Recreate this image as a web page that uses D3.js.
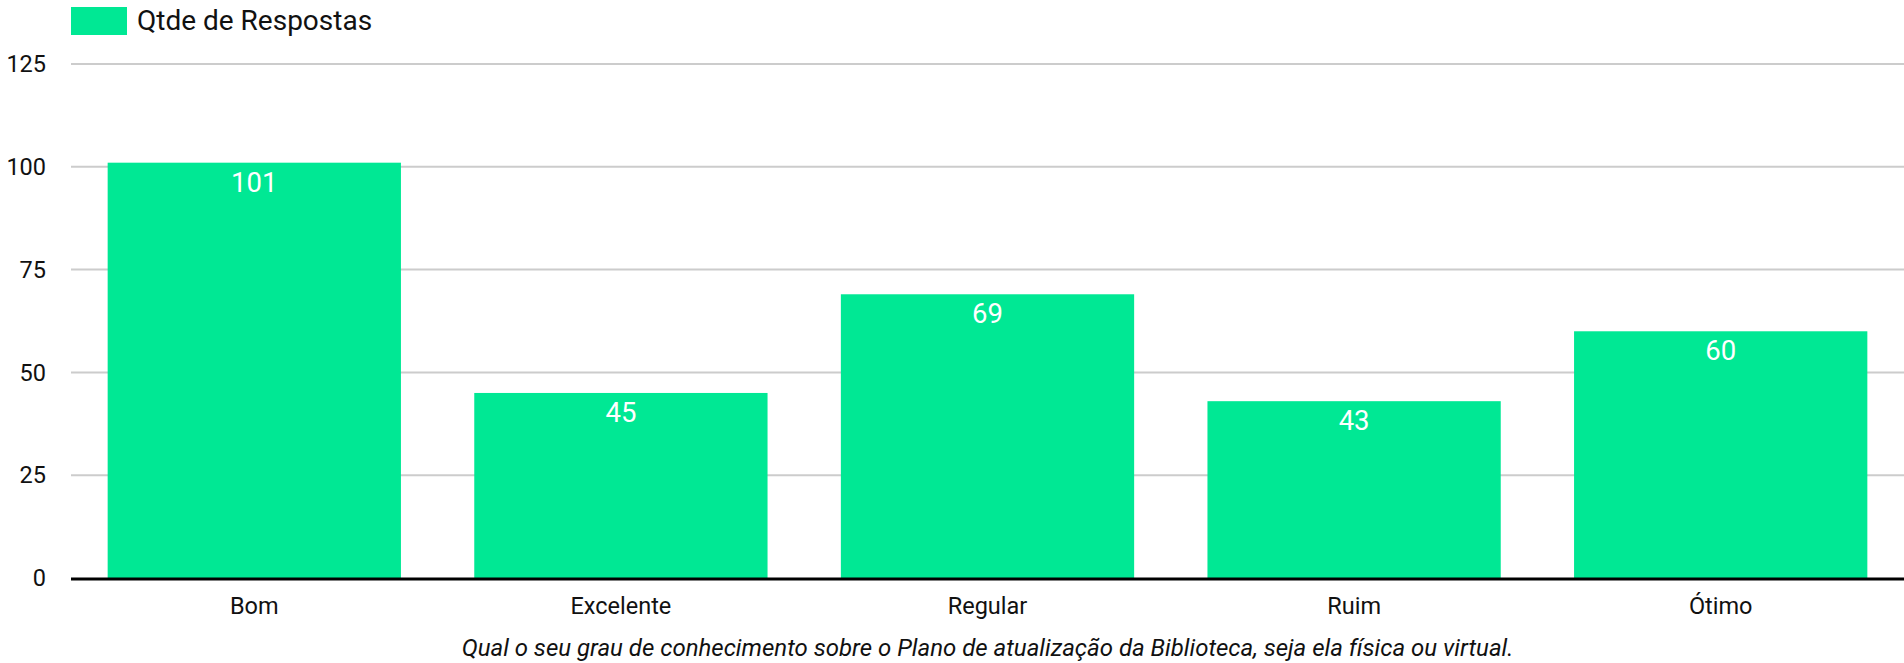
<!DOCTYPE html>
<html>
<head>
<meta charset="utf-8">
<script src="https://cdn.jsdelivr.net/npm/d3@7"></script>
<style>
  body { margin: 0; background: #fff; }
  svg { display: block; font-family: Roboto, sans-serif; }
</style>
</head>
<body>
<svg id="chart"></svg>
<script>
// values
const categories = ['Bom', 'Excelente', 'Regular', 'Ruim', 'Ótimo'];
const respostas = [101, 45, 69, 43, 60];
const yTicks = [0, 25, 50, 75, 100, 125];
const seriesName = 'Qtde de Respostas';
const xTitle = 'Qual o seu grau de conhecimento sobre o Plano de atualização da Biblioteca, seja ela física ou virtual.';

const w = 1904, h = 663;
const plotLeft = 71, plotRight = 1904, plotTop = 64, plotBottom = 578;
const barColor = '#00e894';

const svg = d3.select('#chart')
    .attr('width', w)
    .attr('height', h);

const xScale = d3.scaleBand()
    .domain(categories)
    .range([plotLeft, plotRight])
    .paddingInner(0.2)
    .paddingOuter(0.1);

const yScale = d3.scaleLinear()
    .domain([0, 125])
    .range([plotBottom, plotTop]);

// grid lines
svg.append('g')
    .selectAll('line')
    .data(yTicks.filter(d => d > 0))
    .enter()
    .append('line')
    .attr('x1', plotLeft)
    .attr('x2', plotRight)
    .attr('y1', d => yScale(d))
    .attr('y2', d => yScale(d))
    .attr('stroke', '#cccccc')
    .attr('stroke-width', 2);

// y labels
svg.append('g')
    .selectAll('text')
    .data(yTicks)
    .enter()
    .append('text')
    .attr('x', 46)
    .attr('y', d => yScale(d))
    .attr('dy', '0.35em')
    .attr('text-anchor', 'end')
    .attr('font-size', '23.5px')
    .attr('fill', '#111')
    .text(d => d);

// bars
svg.append('g')
    .selectAll('rect')
    .data(respostas)
    .enter()
    .append('rect')
    .attr('x', (d, i) => xScale(categories[i]))
    .attr('y', d => yScale(d))
    .attr('width', xScale.bandwidth())
    .attr('height', d => yScale(0) - yScale(d))
    .attr('fill', barColor);

// value labels
svg.append('g')
    .selectAll('text')
    .data(respostas)
    .enter()
    .append('text')
    .attr('x', (d, i) => xScale(categories[i]) + xScale.bandwidth() / 2)
    .attr('y', d => yScale(d) + 29)
    .attr('text-anchor', 'middle')
    .attr('font-size', '27.5px')
    .attr('fill', '#fff')
    .text(d => d);

// baseline
svg.append('line')
    .attr('x1', plotLeft)
    .attr('x2', plotRight)
    .attr('y1', yScale(0) + 1)
    .attr('y2', yScale(0) + 1)
    .attr('stroke', '#000')
    .attr('stroke-width', 3);

// x labels
const xAxis = d3.axisBottom(xScale).tickSize(0).tickPadding(0);
const xAxisGroup = svg.append('g')
    .attr('transform', `translate(0, ${plotBottom})`)
    .call(xAxis);
xAxisGroup.select('.domain').remove();
xAxisGroup.selectAll('text')
    .attr('y', 36)
    .attr('dy', 0)
    .attr('font-family', 'Roboto, sans-serif')
    .attr('font-size', '23.5px')
    .attr('fill', '#111');

// axis title
svg.append('text')
    .attr('x', (plotLeft + plotRight) / 2)
    .attr('y', 656)
    .attr('text-anchor', 'middle')
    .attr('font-size', '24px')
    .attr('font-style', 'italic')
    .attr('fill', '#111')
    .text(xTitle);

// legend
svg.append('rect')
    .attr('x', 71)
    .attr('y', 7)
    .attr('width', 56)
    .attr('height', 28)
    .attr('fill', barColor);
svg.append('text')
    .attr('x', 137)
    .attr('y', 30)
    .attr('font-size', '28px')
    .attr('fill', '#111')
    .text(seriesName);
</script>
</body>
</html>
